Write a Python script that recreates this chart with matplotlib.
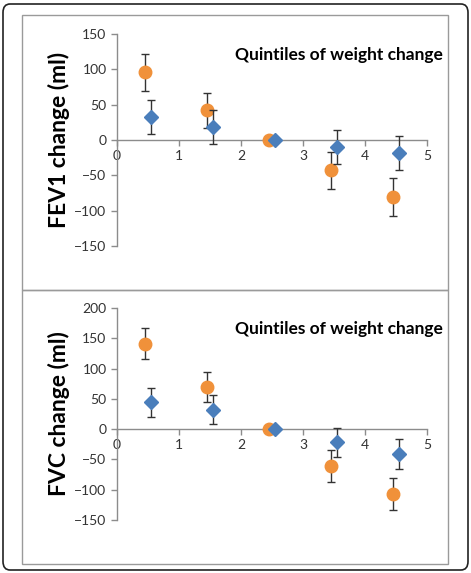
import matplotlib
matplotlib.use("Agg")
import matplotlib.pyplot as plt
from matplotlib.patches import Rectangle, FancyBboxPatch

# quintiles, orange (circles) and blue (diamonds) offset slightly
x_orange = [0.45, 1.45, 2.45, 3.45, 4.45]
x_blue = [0.55, 1.55, 2.55, 3.55, 4.55]

fev1_orange = [96, 42, 0, -43, -81]
fev1_orange_err = [26, 25, 0, 26, 27]
fev1_blue = [33, 19, 0, -10, -19]
fev1_blue_err = [24, 24, 0, 24, 24]

fvc_orange = [141, 69, 0, -61, -107]
fvc_orange_err = [26, 25, 0, 26, 27]
fvc_blue = [44, 32, 0, -22, -41]
fvc_blue_err = [24, 24, 0, 24, 24]

fev1_ticks = [-150, -100, -50, 0, 50, 100, 150]
fvc_ticks = [-150, -100, -50, 0, 50, 100, 150, 200]
x_ticks = [0, 1, 2, 3, 4, 5]

W, H = 471, 573
orange = "#F0913A"
blue = "#4A7EBB"
axcol = "#8C8C8C"
txtcol = "#333333"
font = "Lato"

fig = plt.figure(figsize=(W / 100, H / 100), dpi=100)

def px_axes(x0, x1, ytop, ybot):
    return fig.add_axes([x0 / W, 1 - ybot / H, (x1 - x0) / W, (ybot - ytop) / H])

# outer rounded frame and panel frames
fig.patches.append(FancyBboxPatch((3 / W, 3 / H), 465 / W, 566 / H,
                                  boxstyle="round,pad=0,rounding_size=0.015",
                                  transform=fig.transFigure, fill=False,
                                  ec="#222222", lw=1.2))
fig.patches.append(Rectangle((22 / W, 1 - 290 / H), 426 / W, 275 / H,
                             transform=fig.transFigure, fill=False, ec="#9A9A9A", lw=1))
fig.patches.append(Rectangle((22 / W, 1 - 564 / H), 426 / W, 274 / H,
                             transform=fig.transFigure, fill=False, ec="#9A9A9A", lw=1))

def panel(ax, yo, yoe, yb, ybe, ylim, yticks, ylabel):
    ax.errorbar(x_orange, yo, yerr=yoe, fmt="o", color=orange, ms=9,
                ecolor="#333333", elinewidth=1, capsize=3, capthick=1, zorder=3)
    ax.errorbar(x_blue, yb, yerr=ybe, fmt="D", color=blue, ms=7,
                ecolor="#333333", elinewidth=1, capsize=3, capthick=1, zorder=4)
    ax.set_xlim(0, 5)
    ax.set_ylim(*ylim)
    ax.set_yticks(yticks)
    ax.set_xticks(x_ticks)
    for s in ["top", "right"]:
        ax.spines[s].set_visible(False)
    ax.spines["bottom"].set_position(("data", 0))
    for s in ["left", "bottom"]:
        ax.spines[s].set_color(axcol)
        ax.spines[s].set_linewidth(1)
    ax.tick_params(axis="both", colors=axcol, labelcolor=txtcol, labelsize=10,
                   length=4, width=1, direction="out")
    ax.tick_params(axis="x", pad=3)
    for lab in ax.get_xticklabels() + ax.get_yticklabels():
        lab.set_fontfamily(font)
    ax.set_facecolor("none")
    ax.set_ylabel(ylabel, fontsize=16.5, fontweight="bold", family=font, labelpad=3)
    ax.text(1.05, 0.9, "Quintiles of weight change", transform=ax.transAxes,
            ha="right", va="center", fontsize=12.5, fontweight="bold", family=font)

ax1 = px_axes(117, 427, 34, 246)
panel(ax1, fev1_orange, fev1_orange_err, fev1_blue, fev1_blue_err,
      (-150, 150), fev1_ticks, "FEV1 change (ml)")

ax2 = px_axes(117, 427, 308, 520)
panel(ax2, fvc_orange, fvc_orange_err, fvc_blue, fvc_blue_err,
      (-150, 200), fvc_ticks, "FVC change (ml)")

fig.savefig("out.png", dpi=100)
